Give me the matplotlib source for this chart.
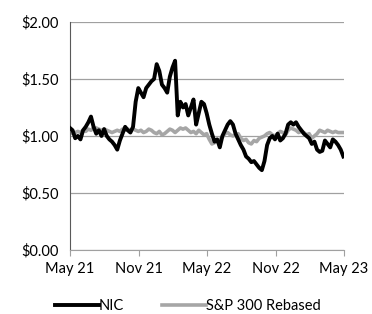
import numpy as np
import pandas as pd
import matplotlib
matplotlib.use("Agg")
import matplotlib.pyplot as plt
import matplotlib.dates as mdates
from matplotlib.ticker import FuncFormatter

plt.rcParams["font.family"] = ["Lato", "DejaVu Sans"]

# weekly values, May 2021 -> May 2023
dates = pd.date_range("2021-05-01", periods=105, freq="7D")

nic = [
    1.07, 1.05, 0.98, 1.00, 0.97, 1.05, 1.08, 1.12, 1.17, 1.08,
    1.02, 1.05, 1.00, 1.06, 1.00, 0.97, 0.95, 0.92, 0.88, 0.96,
    1.02, 1.08, 1.05, 1.03, 1.08, 1.30, 1.42, 1.38, 1.34, 1.42,
    1.45, 1.48, 1.50, 1.63, 1.57, 1.45, 1.42, 1.38, 1.52, 1.60,
    1.66, 1.18, 1.30, 1.25, 1.28, 1.18, 1.25, 1.32, 1.10, 1.20,
    1.30, 1.28, 1.20, 1.10, 1.02, 0.95, 0.97, 0.90, 1.00, 1.05,
    1.10, 1.13, 1.10, 1.02, 0.97, 0.92, 0.88, 0.82, 0.80, 0.77,
    0.78, 0.75, 0.72, 0.70, 0.78, 0.92, 0.98, 1.00, 0.97, 1.02,
    0.96, 0.98, 1.02, 1.10, 1.12, 1.10, 1.12, 1.08, 1.05, 1.02,
    1.00, 0.98, 0.93, 0.95, 0.88, 0.86, 0.87, 0.96, 0.93, 0.90,
    0.97, 0.95, 0.92, 0.88, 0.82,
]

sp300 = [
    1.02, 1.03, 1.03, 1.04, 1.03, 1.05, 1.04, 1.06, 1.05, 1.07,
    1.07, 1.06, 1.05, 1.06, 1.05, 1.04, 1.03, 1.04, 1.05, 1.04,
    1.06, 1.05, 1.06, 1.05, 1.06, 1.05, 1.04, 1.05, 1.03, 1.04,
    1.06, 1.05, 1.03, 1.02, 1.04, 1.01, 1.02, 1.04, 1.06, 1.05,
    1.03, 1.05, 1.07, 1.06, 1.07, 1.05, 1.03, 1.04, 1.02, 1.05,
    1.03, 1.01, 1.02, 0.97, 0.93, 0.94, 0.96, 0.97, 0.99, 1.02,
    1.03, 1.01, 1.00, 1.01, 1.02, 0.98, 0.96, 0.97, 0.94, 0.93,
    0.96, 0.95, 0.98, 0.99, 1.00, 1.02, 1.03, 1.01, 1.00, 1.02,
    1.04, 1.03, 1.01, 1.05, 1.07, 1.06, 1.05, 1.03, 1.04, 1.03,
    1.01, 1.02, 0.98, 1.00, 1.02, 1.05, 1.04, 1.03, 1.05, 1.04,
    1.03, 1.04, 1.03, 1.03, 1.03,
]

tick_dates = pd.to_datetime(["2021-05-01", "2021-11-01", "2022-05-01",
                             "2022-11-01", "2023-05-01"])
y_ticks = [0.0, 0.5, 1.0, 1.5, 2.0]

fig = plt.figure(figsize=(3.72, 3.14), dpi=100)
ax = fig.add_axes([0.188, 0.204, 0.737, 0.726])

ax.plot(dates, sp300, color="#A6A6A6", lw=2.6, label="S&P 300 Rebased", zorder=2)
ax.plot(dates, nic, color="black", lw=2.8, label="NIC", zorder=3)

ax.set_xlim(tick_dates[0], tick_dates[-1])
ax.set_ylim(0, 2.0)
ax.set_yticks(y_ticks)
ax.yaxis.set_major_formatter(FuncFormatter(lambda v, p: f"${v:.2f}"))
ax.set_xticks(tick_dates)
ax.xaxis.set_major_formatter(mdates.DateFormatter("%b %y"))

ax.grid(axis="y", color="#A0A0A0", lw=0.9, zorder=0)
ax.set_axisbelow(True)
for s in ["top", "right"]:
    ax.spines[s].set_visible(False)
ax.spines["left"].set_color("#595959")
ax.spines["bottom"].set_color("#A0A0A0")
ax.tick_params(axis="y", length=0, labelsize=10.5, pad=8)
ax.tick_params(axis="x", direction="out", length=4, color="#A0A0A0",
               labelsize=10.5, pad=5)

handles, labels = ax.get_legend_handles_labels()
fig.legend(handles[::-1], labels[::-1], loc="center", bbox_to_anchor=(0.505, 0.025),
           ncol=2, frameon=False, fontsize=10.5, handlelength=3.0,
           handletextpad=0.0, columnspacing=2.6)

fig.savefig("out.png", dpi=100)
